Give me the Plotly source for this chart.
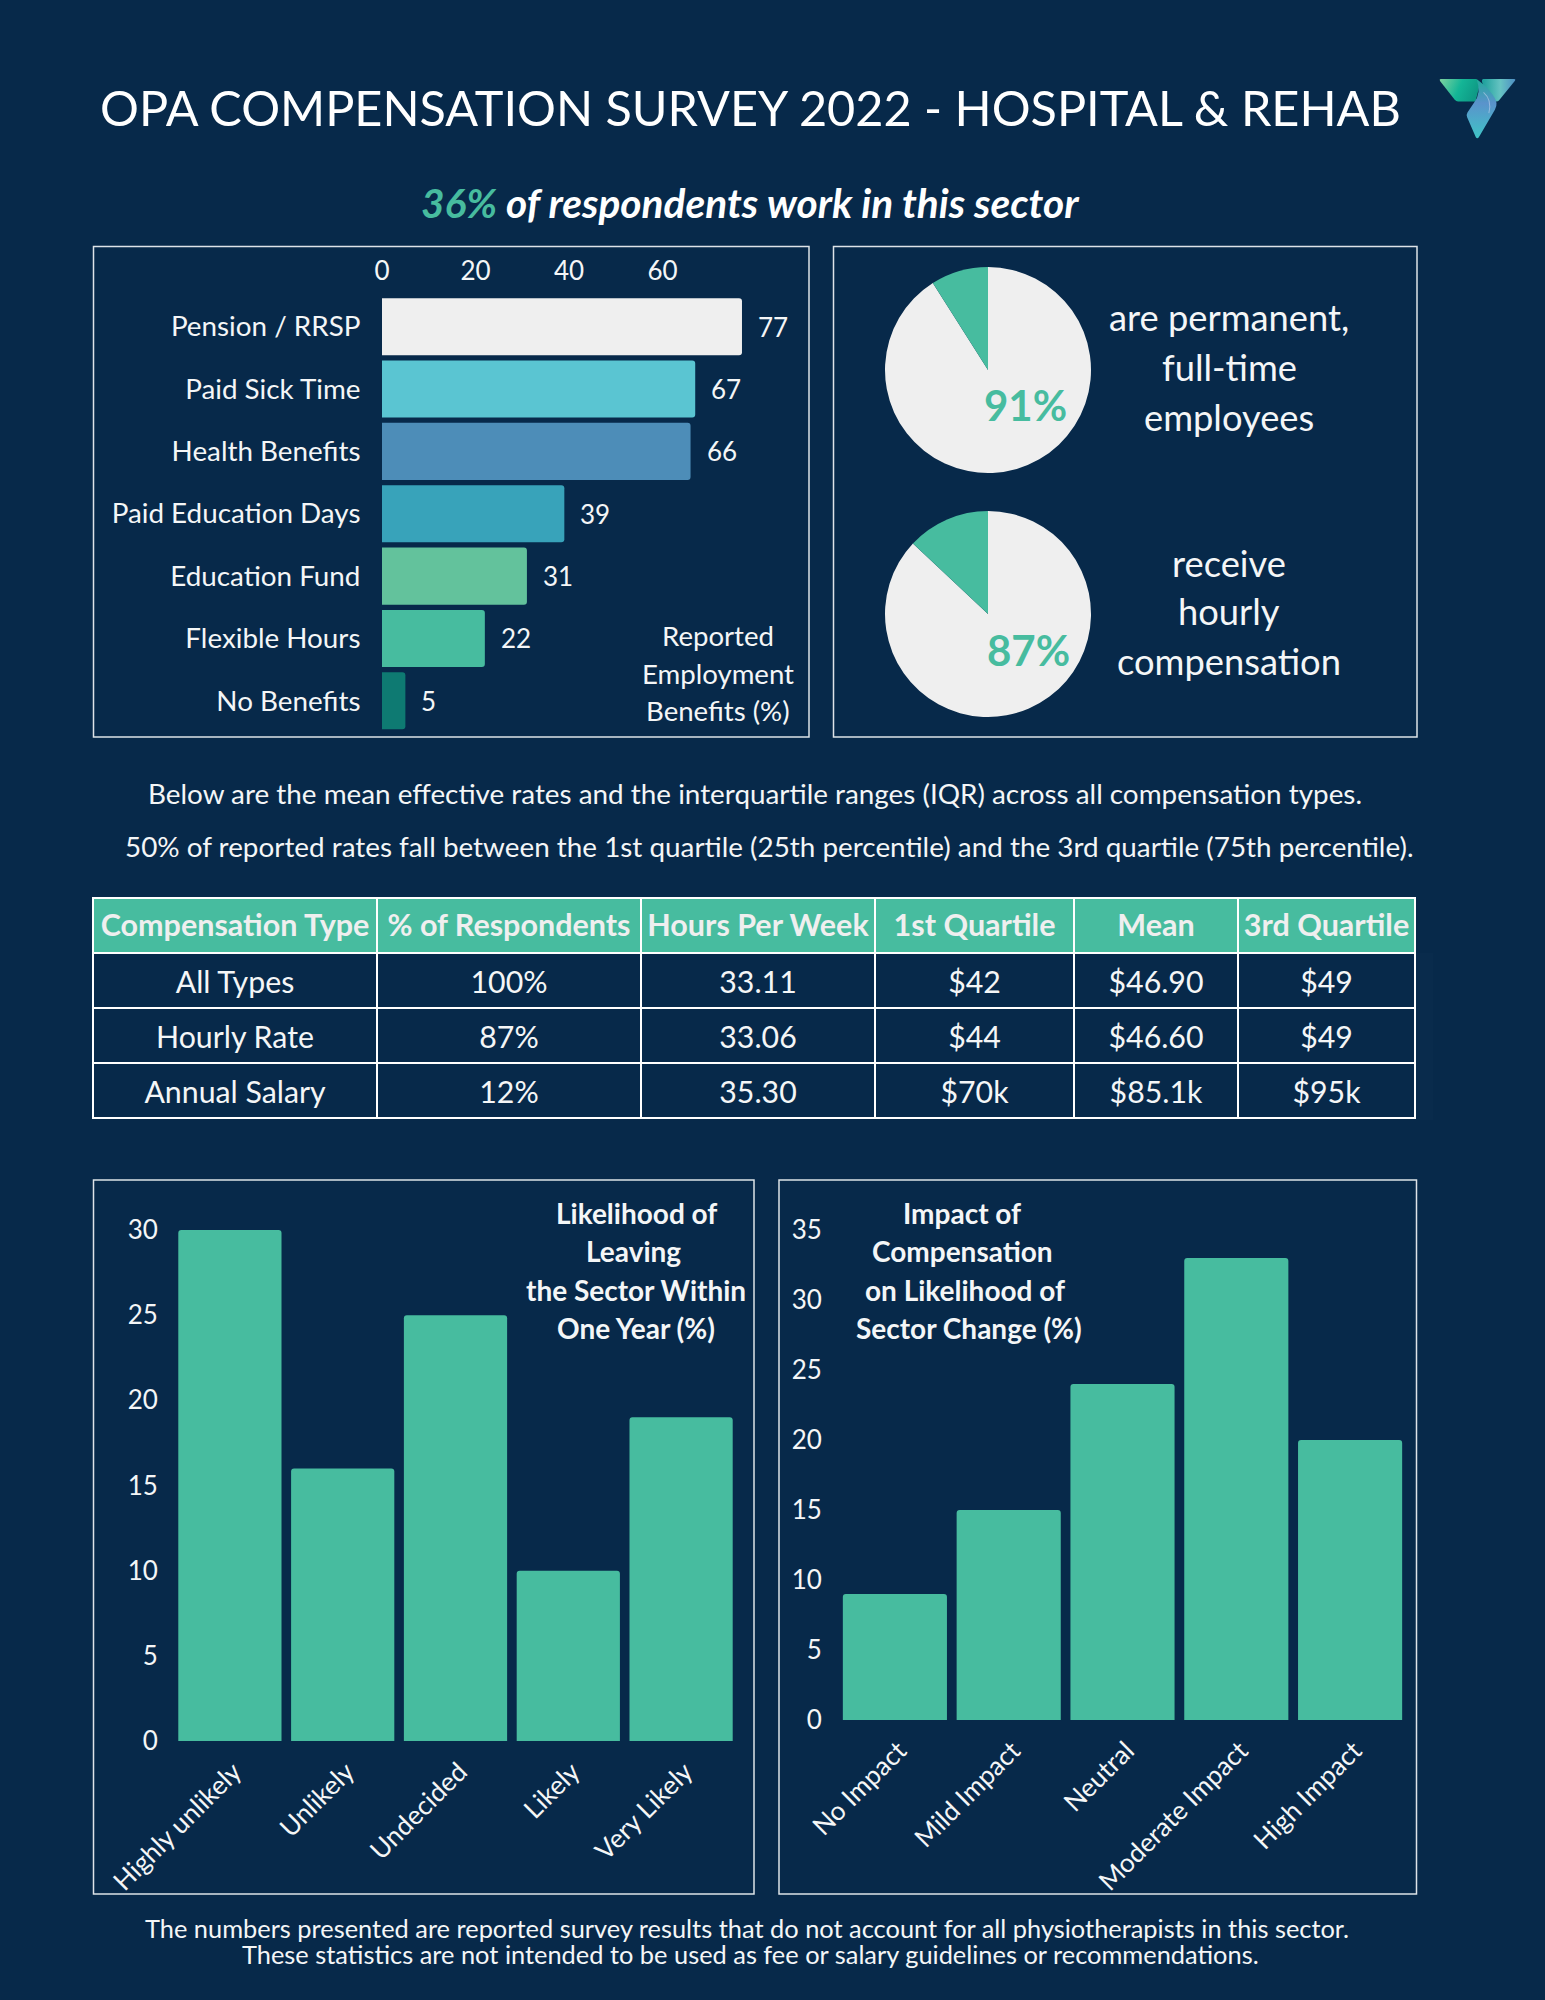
import base64
import plotly.graph_objects as go

# ---------- data ----------
benefit_labels = ["Pension / RRSP", "Paid Sick Time", "Health Benefits", "Paid Education Days",
                  "Education Fund", "Flexible Hours", "No Benefits"]
benefit_values = [77, 67, 66, 39, 31, 22, 5]
benefit_ticks = [0, 20, 40, 60]

pie_permanent = [91, 9]
pie_hourly = [87, 13]

table_header = ["Compensation Type", "% of Respondents", "Hours Per Week", "1st Quartile", "Mean", "3rd Quartile"]
col_type = ["All Types", "Hourly Rate", "Annual Salary"]
col_resp = ["100%", "87%", "12%"]
col_hours = ["33.11", "33.06", "35.30"]
col_q1 = ["$42", "$44", "$70k"]
col_mean = ["$46.90", "$46.60", "$85.1k"]
col_q3 = ["$49", "$49", "$95k"]

leaving_labels = ["Highly unlikely", "Unlikely", "Undecided", "Likely", "Very Likely"]
leaving_values = [30, 16, 25, 10, 19]
leaving_ticks = [0, 5, 10, 15, 20, 25, 30]

impact_labels = ["No Impact", "Mild Impact", "Neutral", "Moderate Impact", "High Impact"]
impact_values = [9, 15, 24, 33, 20]
impact_ticks = [0, 5, 10, 15, 20, 25, 30, 35]

# ---------- style ----------
W, H = 1545, 2000
BG = "#07294A"
GREEN = "#47BC9F"
PALE = "#EFEFEF"
TEXT = "#F4F6F7"
FONT = "Lato"
BAR_COLORS = ["#EFEFEF", "#5AC5D2", "#4D8DB8", "#38A3BA", "#63C29C", "#47BC9F", "#0E7A72"]


def fx(px):
    return px / W


def fy(px):
    return 1 - px / H


def dom_x(a, b):
    return [fx(a), fx(b)]


def dom_y(top, bottom):
    return [fy(bottom), fy(top)]


def nb(items):
    return [s.replace(" ", "\u00a0") for s in items]


annotations = []


def note(text, x, y, size, color=TEXT, weight=400, style="normal"):
    annotations.append(dict(text=text, x=fx(x), y=fy(y), xref="paper", yref="paper",
                            xanchor="center", yanchor="middle", showarrow=False,
                            font=dict(family=FONT, size=size, color=color, weight=weight, style=style)))


fig = go.Figure()

# benefits bars
fig.add_trace(go.Bar(x=benefit_values, y=benefit_labels, orientation="h", xaxis="x", yaxis="y",
                     marker=dict(color=BAR_COLORS, line_width=0), showlegend=False, hoverinfo="skip"))
for lab, val in zip(benefit_labels, benefit_values):
    annotations.append(dict(text=str(val), x=val, y=lab, xref="x", yref="y", xanchor="left",
                            yanchor="middle", xshift=14, showarrow=False,
                            font=dict(family=FONT, size=26, color=TEXT)))

# pies
for vals, top in ((pie_permanent, 267), (pie_hourly, 511)):
    fig.add_trace(go.Pie(values=vals, sort=False, direction="clockwise", rotation=0, textinfo="none",
                         hoverinfo="skip", showlegend=False,
                         marker=dict(colors=[PALE, GREEN], line_width=0),
                         domain=dict(x=dom_x(885, 1091), y=dom_y(top, top + 206))))

# table
fig.add_trace(go.Table(
    domain=dict(x=dom_x(93, 1415), y=dom_y(898, 1121)),
    columnwidth=[284, 264, 234, 199, 164, 177],
    header=dict(values=nb(table_header), height=55, align="center", fill_color=GREEN,
                line=dict(color="white", width=1.5),
                font=dict(family=FONT, size=30.5, color=PALE, weight=700)),
    cells=dict(values=[nb(col_type), col_resp, col_hours, col_q1, col_mean, col_q3], height=55, align="center",
               fill_color=BG, line=dict(color="white", width=1.5),
               font=dict(family=FONT, size=30.3, color=TEXT)),
))

# bottom bars
fig.add_trace(go.Bar(x=leaving_labels, y=leaving_values, xaxis="x2", yaxis="y2",
                     marker=dict(color=GREEN, line_width=0), showlegend=False, hoverinfo="skip"))
fig.add_trace(go.Bar(x=impact_labels, y=impact_values, xaxis="x3", yaxis="y3",
                     marker=dict(color=GREEN, line_width=0), showlegend=False, hoverinfo="skip"))

# ---------- texts ----------
note("OPA COMPENSATION SURVEY 2022 - HOSPITAL &amp; REHAB", 750, 106.5, 48.6, "white")
note(f"<span style='color:{GREEN}'>36%</span> of respondents work in this sector", 750, 202.5, 40.6,
     "white", 700, "italic")

note("91%", 1025.5, 405, 42, GREEN, 700)
note("87%", 1028, 650, 42, GREEN, 700)
for t, y in (("are permanent,", 317), ("full-time", 367), ("employees", 417),
             ("receive", 562.5), ("hourly", 611), ("compensation", 661)):
    note(t, 1229, y, 36.3)
for t, y in (("Reported", 635), ("Employment", 673), ("Benefits (%)", 711)):
    note(t, 718, y, 27.6)

note("Below are the mean effective rates and the interquartile ranges (IQR) across all compensation types.",
     755, 793, 27.85)
note("50% of reported rates fall between the 1st quartile (25th percentile) and the 3rd quartile (75th percentile).",
     769, 846, 27.85)

for t, x, y in (("Likelihood of", 636, 1213), ("Leaving", 633, 1251), ("the Sector Within", 635.5, 1289.5),
                ("One Year (%)", 636, 1327.5),
                ("Impact of", 962, 1213), ("Compensation", 962, 1251), ("on Likelihood of", 965, 1289.5),
                ("Sector Change (%)", 969, 1327.5)):
    note(t, x, y, 28, TEXT, 700)

note("The numbers presented are reported survey results that do not account for all physiotherapists in this sector.",
     747, 1928, 25.4)
note("These statistics are not intended to be used as fee or salary guidelines or recommendations.",
     750, 1954, 25.4)

# ---------- panels ----------
shapes = []
for x0, y0, x1, y1 in ((93.5, 246.5, 809, 737), (833.5, 246.5, 1417, 737),
                       (93.5, 1180, 754, 1894), (779, 1180, 1416.5, 1894)):
    shapes.append(dict(type="rect", xref="paper", yref="paper", x0=fx(x0), x1=fx(x1), y0=fy(y1), y1=fy(y0),
                       line=dict(color="#DDE3E8", width=1.5), fillcolor="rgba(0,0,0,0)", layer="below"))

# ---------- logo ----------
logo_svg = """<svg xmlns='http://www.w3.org/2000/svg' viewBox='110 82 236 188'>
<defs>
<linearGradient id='a' x1='0' y1='0' x2='1' y2='0.25'><stop offset='0' stop-color='#7FD3A0'/><stop offset='0.55' stop-color='#14B596'/><stop offset='1' stop-color='#0E9A85'/></linearGradient>
<linearGradient id='b' x1='0' y1='0' x2='1' y2='0'><stop offset='0' stop-color='#1A9F9A'/><stop offset='0.55' stop-color='#66C3C2'/><stop offset='1' stop-color='#4E8FC4'/></linearGradient>
<linearGradient id='c' x1='0.5' y1='0' x2='0.5' y2='1'><stop offset='0' stop-color='#22A99A'/><stop offset='0.4' stop-color='#5A93CC'/><stop offset='1' stop-color='#3FC4C6'/></linearGradient>
</defs>
<path fill='url(#b)' d='M245 88 H338 Q343 88 340 93 L292 152 Q288 156 282 155 L262 135 L244 104 Q238 90 245 88 Z'/>
<path fill='url(#a)' d='M118 88 H222 Q230 88 236 100 L222 155 H170 Q164 155 160 150 L116 94 Q113 88 118 88 Z'/>
<path fill='url(#c)' d='M226 90 Q252 104 274 136 Q292 160 280 180 L232 262 Q227 268 223 262 L197 202 Q194 195 198 188 L218 158 Q240 130 226 90 Z'/>
<path fill='none' stroke='#C9D6EE' stroke-opacity='0.55' stroke-width='3' d='M246 128 Q272 150 262 190'/>
</svg>"""
logo_uri = "data:image/svg+xml;base64," + base64.b64encode(logo_svg.encode()).decode()

# ---------- layout ----------
tickfont = dict(family=FONT, size=26, color=TEXT)
common = dict(showgrid=False, zeroline=False, showline=False, tickfont=tickfont, automargin=False)
catfont = dict(family=FONT, size=27.8, color=TEXT)
rotfont = dict(family=FONT, size=26.2, color=TEXT)
plain = dict(showgrid=False, zeroline=False, showline=False, automargin=False)

fig.update_layout(
    template="none",
    width=W, height=H, margin=dict(l=0, r=0, t=0, b=0, pad=0), autosize=False,
    paper_bgcolor=BG, plot_bgcolor=BG, font=dict(family=FONT, color=TEXT),
    showlegend=False, barcornerradius=3,
    annotations=annotations, shapes=shapes,
    images=[dict(source=logo_uri, xref="paper", yref="paper", x=fx(1438), y=fy(77), sizex=fx(79), sizey=63 / H,
                 xanchor="left", yanchor="top", sizing="stretch", layer="above")],
    xaxis=dict(domain=dom_x(382, 790), range=[0, 408 / 4.675], side="top", anchor="y", tickvals=benefit_ticks,
               ticks="outside", ticklen=4, tickcolor=BG, **common),
    yaxis=dict(domain=dom_y(295.5, 732), anchor="x", autorange="reversed", type="category",
               ticks="outside", ticklen=15, tickcolor=BG, tickfont=catfont, **plain),
    bargap=0.085,
    xaxis2=dict(domain=dom_x(173.5, 737.5), anchor="y2", type="category", tickangle=-45,
                ticks="outside", ticklen=4, tickcolor=BG, tickfont=rotfont, ticklabelshift=4, **plain),
    yaxis2=dict(domain=dom_y(1230, 1741), anchor="x2", range=[0, 30], tickvals=leaving_ticks,
                ticks="outside", ticklen=9.5, tickcolor=BG, **common),
    xaxis3=dict(domain=dom_x(838, 1407), anchor="y3", type="category", tickangle=-45,
                ticks="outside", ticklen=4, tickcolor=BG, tickfont=rotfont, ticklabelshift=4, **plain),
    yaxis3=dict(domain=dom_y(1230, 1720), anchor="x3", range=[0, 35], tickvals=impact_ticks,
                ticks="outside", ticklen=10, tickcolor=BG, **common),
)

post = """
document.body.style.margin='0';
var st=document.createElement('style');
st.textContent='.table .cell-text{transform:translateY(9px);} .table #header .cell-text{transform:translateY(7px);}';
document.head.appendChild(st);
"""
fig.write_html("out.html", post_script=post, config={"displayModeBar": False})
